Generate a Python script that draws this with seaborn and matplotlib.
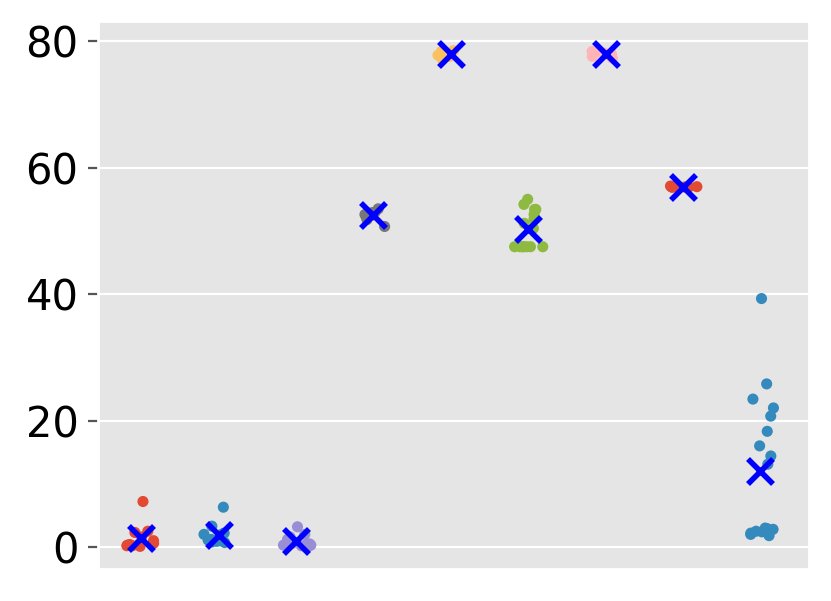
import numpy as np
import pandas as pd
import matplotlib
matplotlib.use("Agg")
import matplotlib.pyplot as plt
import seaborn as sns

# ==========================================
# Data
# ==========================================

categories = ["A", "B", "C", "D", "E", "F", "G", "H", "I"]

vals_a = [7.2, 2.5, 2.3, 1.6, 1.0, 0.6, 0.4, 0.2, 0.3, 0.5, 0.2, 0.1]
vals_b = [6.3, 3.3, 2.2, 2.0, 2.0, 1.0, 1.2, 1.0, 0.8, 0.7, 0.9, 1.1]
vals_c = [3.2, 2.0, 1.6, 1.2, 0.8, 0.5, 0.3, 0.2, 0.1, 0.4, 0.6, 0.3]
vals_d = [53.5, 53.0, 52.8, 52.6, 52.4, 52.9, 52.2, 51.8, 52.5, 50.7]
vals_e = [78.5, 78.2, 77.9, 77.6, 77.3, 78.4, 78.1, 77.8]
vals_f = [55.0, 54.2, 53.4, 53.4, 52.6, 51.9, 51.2, 50.4,
          47.5, 47.5, 47.5, 47.5, 47.5, 47.5, 47.5]
vals_g = [78.3, 78.0, 77.7, 77.3, 78.1, 77.9, 78.4, 77.6]
vals_h = [57.0, 56.9, 57.1, 57.0, 56.95, 57.05, 57.0, 56.9]
vals_i = [39.3, 25.8, 23.4, 22.0, 20.7, 18.3, 16.0, 14.4, 13.1,
          3.0, 2.8, 2.6, 2.5, 2.4, 2.2, 2.0, 2.9, 1.8]

colors = ["#E24A33", "#348ABD", "#988ED5", "#777777", "#FBC15E",
          "#8EBA42", "#FFB5B8", "#E24A33", "#348ABD"]

all_vals = [vals_a, vals_b, vals_c, vals_d, vals_e,
            vals_f, vals_g, vals_h, vals_i]

df = pd.DataFrame({
    "group": [c for c, v in zip(categories, all_vals) for _ in v],
    "value": [x for v in all_vals for x in v],
})

# ==========================================
# Plot
# ==========================================

plt.style.use("ggplot")
np.random.seed(3)

fig = plt.figure(figsize=(4.155, 3.005), dpi=200)
ax = fig.add_axes([0.118, 0.053, 0.8555, 0.912])

sns.stripplot(
    data=df,
    x="group",
    y="value",
    hue="group",
    order=categories,
    palette=colors,
    jitter=0.2,
    size=4,
    legend=False,
    ax=ax
)

sns.pointplot(
    data=df,
    x="group",
    y="value",
    order=categories,
    estimator="mean",
    errorbar=None,
    markers="x",
    linestyles="none",
    color="blue",
    markersize=9,
    markeredgewidth=2,
    ax=ax
)

# mean markers on top of the dots
for line in ax.lines:
    line.set_zorder(10)

ax.set_xlim(-0.56, 8.63)
ax.set_ylim(-3.5, 83.2)
ax.set_yticks([0, 20, 40, 60, 80])
ax.set_xticks([])
ax.set_xlabel("")
ax.set_ylabel("")
ax.grid(axis="x", visible=False)
ax.tick_params(axis="y", labelsize=15, labelcolor="black")

fig.savefig("out.png", dpi=200)
